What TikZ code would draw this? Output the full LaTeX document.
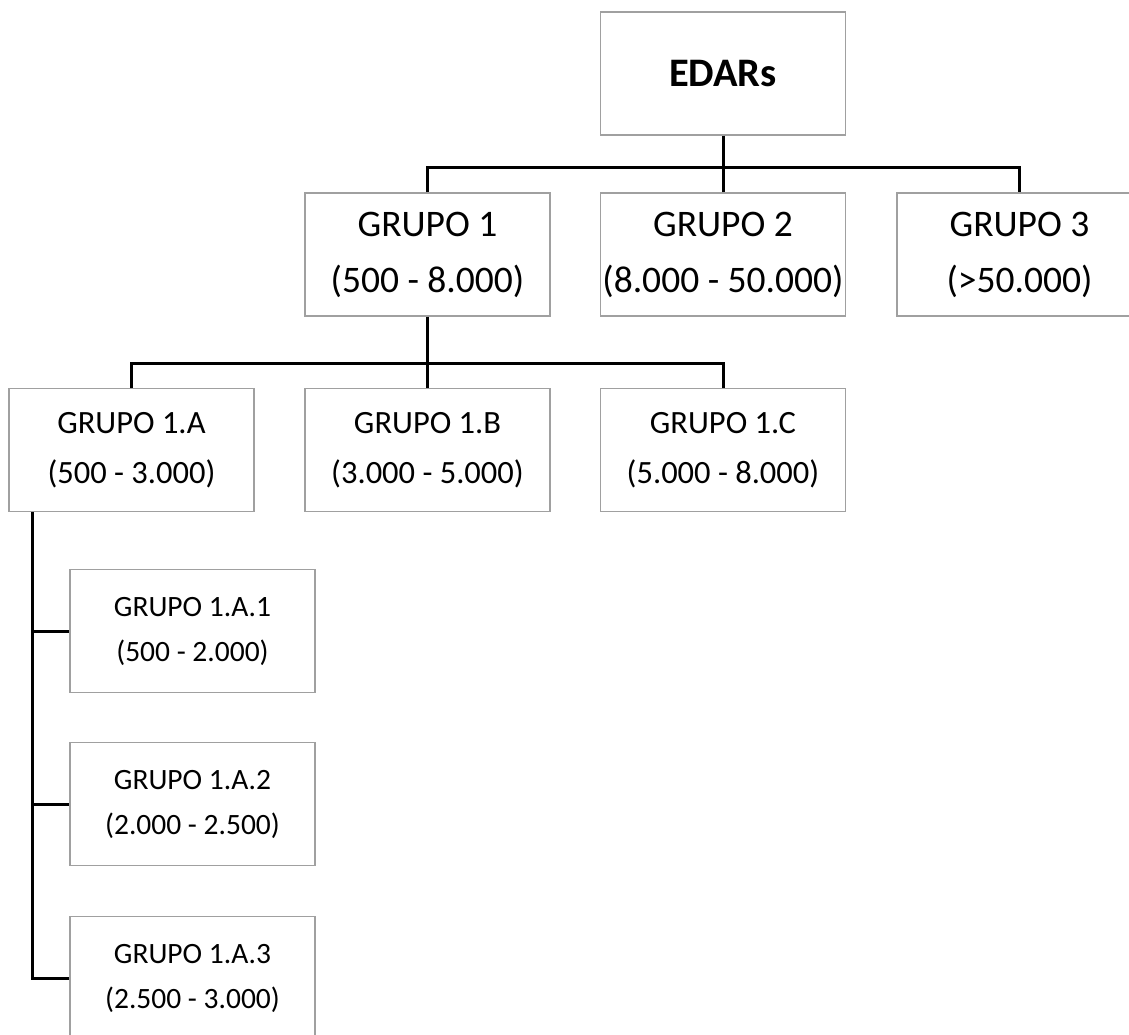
\documentclass[tikz,border=0pt]{standalone}
\usepackage{fontspec}
\setmainfont{Carlito}
\usetikzlibrary{calc}
\definecolor{boxgray}{RGB}{160,160,160}
\tikzset{
  box/.style={draw=boxgray, line width=1.4pt, fill=white, inner sep=0pt,
    minimum width=245pt, minimum height=123pt, align=center},
  lvlzero/.style={box, font=\fontsize{40.5}{50}\selectfont\bfseries},
  lvlone/.style={box, font=\fontsize{37.5}{56}\selectfont},
  lvltwo/.style={box, font=\fontsize{32.5}{50}\selectfont},
  lvlthree/.style={box, font=\fontsize{29.5}{45}\selectfont},
  conn/.style={draw=black, line width=3pt}
}
\begin{document}
\begin{tikzpicture}[x=1pt,y=-1pt]
\clip (0,0) rectangle (1129,1034);
\fill[white] (0,0) rectangle (1129,1034);
% nodes
\node[lvlzero] (edars) at (723,73.5) {EDARs};
\node[lvlone] (g1) at (427.5,254.5) {GRUPO 1\\(500 - 8.000)};
\node[lvlone] (g2) at (723,254.5) {GRUPO 2\\(8.000 - 50.000)};
\node[lvlone] (g3) at (1019.5,254.5) {GRUPO 3\\(>50.000)};
\node[lvltwo] (g1a) at (131.5,450) {GRUPO 1.A\\(500 - 3.000)};
\node[lvltwo] (g1b) at (427.5,450) {GRUPO 1.B\\(3.000 - 5.000)};
\node[lvltwo] (g1c) at (723,450) {GRUPO 1.C\\(5.000 - 8.000)};
\node[lvlthree] (g1a1) at (192.5,631) {GRUPO 1.A.1\\(500 - 2.000)};
\node[lvlthree] (g1a2) at (192.5,804) {GRUPO 1.A.2\\(2.000 - 2.500)};
\node[lvlthree] (g1a3) at (192.5,978) {GRUPO 1.A.3\\(2.500 - 3.000)};
% bus coordinates
\coordinate (busa) at (0,167);
\coordinate (busb) at (0,363);
\coordinate (vtop) at ($(g1a.south west)+(24,0)$);
% level 1 connectors
\draw[conn] (edars.south) -- (edars.south |- busa);
\draw[conn] (g1.north) |- (busa -| g3.north) -- (g3.north);
\draw[conn] (g2.north) -- (g2.north |- busa);
% level 2 connectors
\draw[conn] (g1.south) -- (g1.south |- busb);
\draw[conn] (g1a.north) |- (busb -| g1c.north) -- (g1c.north);
\draw[conn] (g1b.north) -- (g1b.north |- busb);
% level 3 connectors
\draw[conn] (vtop) |- (g1a3.west);
\draw[conn] (vtop |- g1a1.west) -- (g1a1.west);
\draw[conn] (vtop |- g1a2.west) -- (g1a2.west);
\end{tikzpicture}
\end{document}
